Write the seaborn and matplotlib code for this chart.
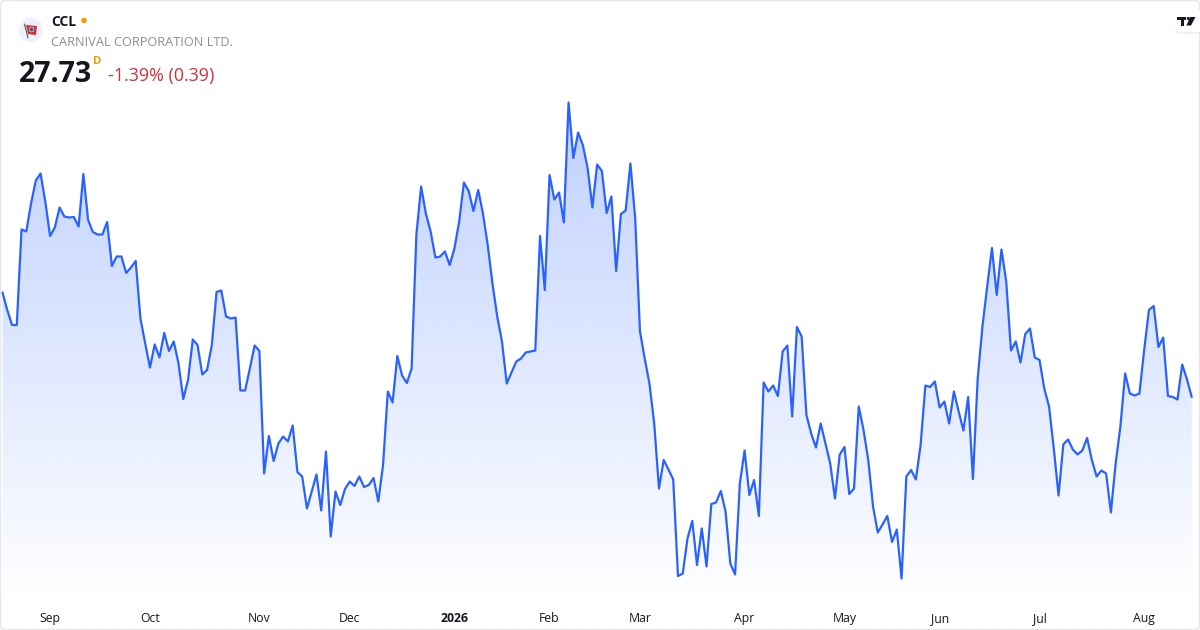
import numpy as np
import pandas as pd
import matplotlib
matplotlib.use("Agg")
import matplotlib.pyplot as plt
from matplotlib.colors import LinearSegmentedColormap
from matplotlib.patches import Circle, FancyBboxPatch, Polygon, Rectangle
import seaborn as sns

prices = [
    29.82, 29.47, 29.17, 29.17, 31.08, 31.04, 31.60, 32.06, 32.20, 31.64,
    30.95, 31.12, 31.52, 31.34, 31.32, 31.33, 31.14, 32.19, 31.27, 31.03,
    30.98, 30.98, 31.23, 30.35, 30.54, 30.54, 30.21, 30.32, 30.45, 29.30,
    28.80, 28.32, 28.78, 28.52, 29.01, 28.65, 28.84, 28.40, 27.69, 28.07,
    28.88, 28.77, 28.18, 28.27, 28.77, 29.83, 29.86, 29.34, 29.30, 29.32,
    27.86, 27.86, 28.30, 28.76, 28.65, 26.20, 26.95, 26.45, 26.80, 26.94,
    26.84, 27.16, 26.23, 26.14, 25.50, 25.84, 26.18, 25.46, 26.64, 24.94,
    25.84, 25.57, 25.89, 26.04, 25.95, 26.14, 25.93, 25.97, 26.11, 25.64,
    26.37, 27.84, 27.62, 28.55, 28.16, 28.01, 28.30, 30.97, 31.94, 31.40,
    31.04, 30.52, 30.54, 30.64, 30.37, 30.70, 31.24, 32.02, 31.85, 31.45,
    31.87, 31.40, 30.77, 30.00, 29.34, 28.84, 28.00, 28.22, 28.44, 28.50,
    28.62, 28.64, 28.66, 30.95, 29.87, 32.17, 31.68, 31.82, 31.22, 33.62,
    32.51, 33.02, 32.77, 32.31, 31.52, 32.38, 32.25, 31.41, 31.74, 30.25,
    31.39, 31.46, 32.40, 31.31, 29.05, 28.50, 28.00, 27.20, 25.90, 26.47,
    26.28, 26.08, 24.15, 24.20, 24.90, 25.25, 24.37, 25.10, 24.34, 25.59,
    25.62, 25.85, 25.44, 24.40, 24.18, 26.00, 26.66, 25.77, 26.07, 25.35,
    28.02, 27.84, 27.96, 27.75, 28.64, 28.76, 27.34, 29.13, 28.94, 27.37,
    27.00, 26.72, 27.20, 26.80, 26.40, 25.70, 26.58, 26.73, 25.79, 25.90,
    27.54, 27.07, 26.47, 25.54, 25.02, 25.18, 25.35, 24.83, 25.08, 24.10,
    26.14, 26.27, 26.08, 26.77, 27.96, 27.93, 28.04, 27.52, 27.64, 27.20,
    27.84, 27.44, 27.06, 27.73, 26.09, 28.10, 29.14, 29.94, 30.71, 29.77,
    30.68, 30.04, 28.66, 28.84, 28.42, 28.99, 29.10, 28.52, 28.47, 27.90,
    27.54, 26.70, 25.76, 26.78, 26.88, 26.68, 26.58, 26.66, 26.91, 26.47,
    26.14, 26.26, 26.20, 25.42, 26.40, 27.14, 28.20, 27.80, 27.76, 27.80,
    28.67, 29.47, 29.55, 28.73, 28.92, 27.75, 27.73, 27.68, 28.38, 28.08,
    27.73,
]
tick_sessions = [10, 31, 54, 73, 95, 115, 134, 156, 177, 197, 218, 240]
tick_labels = ["Sep", "Oct", "Nov", "Dec", "2026", "Feb", "Mar", "Apr", "May", "Jun", "Jul", "Aug"]

symbol = "CCL"
company = "CARNIVAL CORPORATION LTD."
last_price = "27.73"
interval = "D"
change = "-1.39% (0.39)"

W, H = 1200, 630
sns.set_theme(style="white")
plt.rcParams["font.family"] = ["Open Sans", "DejaVu Sans"]

df = pd.DataFrame({"session": np.arange(len(prices)), "price": prices})

fig = plt.figure(figsize=(W / 100, H / 100), dpi=100, facecolor="white")
AX_BOTTOM = 604
ax = fig.add_axes([0, 1 - AX_BOTTOM / H, 1, AX_BOTTOM / H])
ax.set_facecolor("none")

# price/session scale chosen so the last price and the spacing sit as in the reference
x_lim = (-2.5 / 4.757, (W - 2.5) / 4.757)
y_lim = (27.73 + (397 - AX_BOTTOM) * 0.02, 27.73 + 397 * 0.02)

# area fill: vertical gradient clipped to the region under the line
cmap = LinearSegmentedColormap.from_list(
    "area", [(41 / 255, 98 / 255, 1, 0.36), (41 / 255, 98 / 255, 1, 0.0)]
)
fill = ax.fill_between(df["session"], df["price"], y_lim[0], color="none", linewidth=0)
img = ax.imshow(
    np.linspace(0, 1, 256).reshape(-1, 1), cmap=cmap, aspect="auto",
    extent=(x_lim[0], x_lim[1], y_lim[0], y_lim[1]), origin="upper", zorder=1,
)
img.set_clip_path(fill.get_paths()[0], transform=ax.transData)

sns.lineplot(data=df, x="session", y="price", color="#2962FF", linewidth=1.6,
             errorbar=None, ax=ax, zorder=2)

ax.set_xlim(*x_lim)
ax.set_ylim(*y_lim)
ax.set_xlabel("")
ax.set_ylabel("")
ax.set_yticks([])
ax.set_xticks(tick_sessions)
ax.set_xticklabels(tick_labels, fontsize=8.8, color="#131722")
ax.get_xticklabels()[tick_labels.index("2026")].set_fontweight("bold")
ax.tick_params(axis="x", length=0, pad=6.0)
sns.despine(ax=ax, left=True, bottom=True)

# overlay in pixel coordinates for the header, logos and frame
ov = fig.add_axes([0, 0, 1, 1], facecolor="none")
ov.set_xlim(0, W)
ov.set_ylim(H, 0)
ov.axis("off")

ov.add_patch(FancyBboxPatch((0.5, 0.5), W - 1, H - 1, boxstyle="round,pad=0,rounding_size=5",
                            fc="none", ec="#E6E8EE", lw=1.0))

# company logo
ov.add_patch(Circle((31, 30), 12, fc="#EEF1FA", ec="none"))
ov.add_patch(Polygon([(26, 25), (37, 26), (36, 35), (28, 34)], fc="#E02B2B", ec="none"))
ov.add_patch(Circle((31.5, 29.5), 2.4, fc="#1F5FA8", ec="white", lw=0.4))
ov.plot([24.5, 28], [24, 38], color="#555555", lw=0.8)

ov.text(51, 22, symbol, fontsize=10, fontweight="bold", color="#131722", va="center", ha="left")
ov.add_patch(Circle((84, 20.5), 2.8, fc="#FF9800", ec="none"))
ov.text(51, 42.5, company, fontsize=9.15, color="#8A8E97", va="center", ha="left")
ov.text(19, 74, last_price, fontsize=20.5, fontweight="bold", color="#131722", va="center", ha="left")
ov.text(93, 62, interval, fontsize=8.2, fontweight="bold", color="#FF9800", va="center", ha="left")
ov.text(108, 76, change, fontsize=12.85, color="#D5303E", va="center", ha="left")

# top-right badge
ov.add_patch(FancyBboxPatch((1172, 13), 40, 21, boxstyle="round,pad=0,rounding_size=10",
                            fc="#E4E6EB", ec="none", alpha=0.6, clip_on=True))
ov.add_patch(FancyBboxPatch((1171, 10), 40, 22, boxstyle="round,pad=0,rounding_size=10",
                            fc="white", ec="none", clip_on=True))
ov.add_patch(Rectangle((1177, 17), 9, 3, fc="#131722", ec="none"))
ov.add_patch(Rectangle((1180.5, 17), 3, 8.5, fc="#131722", ec="none"))
ov.add_patch(Circle((1188.2, 18.5), 1.5, fc="#131722", ec="none"))
ov.add_patch(Polygon([(1190, 17), (1195.5, 17), (1191, 25.5), (1186.5, 25.5)], fc="#131722", ec="none"))

fig.savefig("out.png", dpi=100, facecolor="white")
